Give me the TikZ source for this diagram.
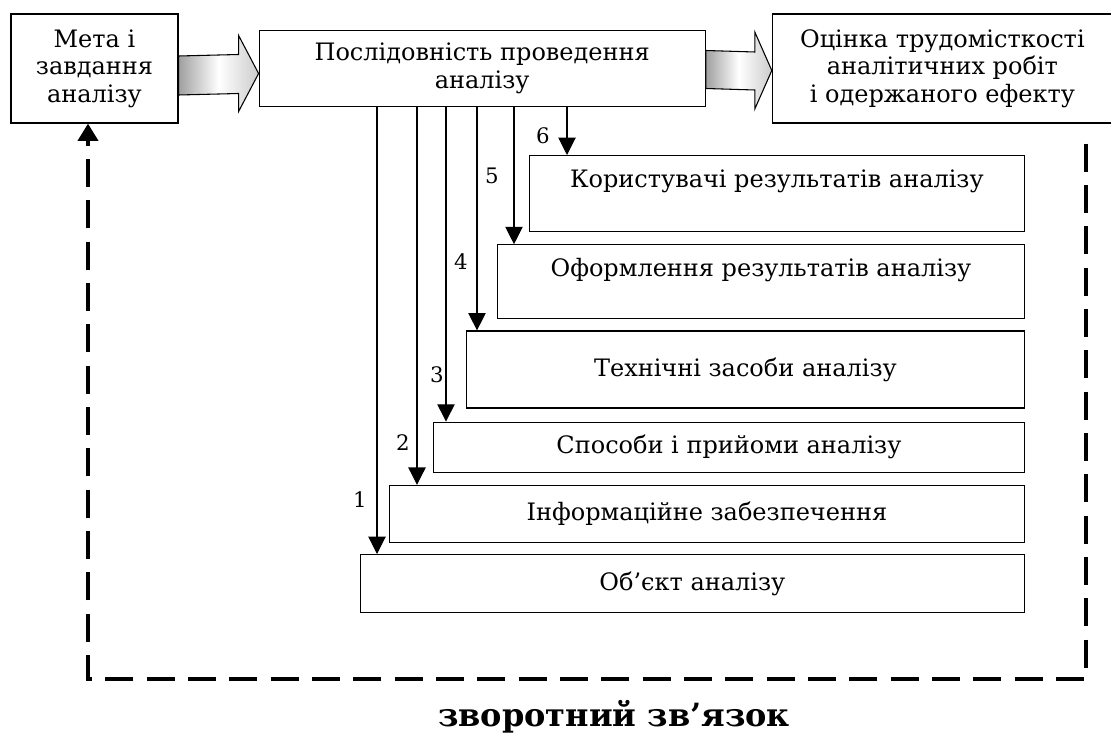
\documentclass[tikz,border=0pt]{standalone}
\usepackage{fontspec}
\setmainfont{DejaVu Serif}
\usetikzlibrary{positioning, arrows.meta, calc}

\begin{document}
\begin{tikzpicture}[
    x=0.75pt, y=-0.75pt,
    box/.style={draw, rectangle, line width=0.9pt, inner sep=2pt, align=center, font=\fontsize{18}{20.6}\selectfont},
    raised/.style={text depth=22pt},
    arrow/.style={-{Triangle[width=13pt, length=13pt]}, line width=0.8pt},
    fatarrow/.style={draw, line width=0.8pt, left color=gray!75, right color=gray!40, middle color=white},
    feedback/.style={-{Triangle[width=15pt, length=13pt]}, line width=3pt, dash pattern=on 21pt off 10pt},
    num/.style={font=\fontsize{16}{18}\selectfont}
]
\useasboundingbox (0,0) rectangle (1111,738);

% Top row
\node[box, minimum width=125.25pt, minimum height=81.75pt] (meta) at (94.5,68.5) {Мета і\\завдання\\аналізу};
\node[box, right=60pt of meta, minimum width=334.5pt, minimum height=57pt] (posl) {Послідовність проведення\\аналізу};
\node[box, right=49.5pt of posl, minimum width=255pt, minimum height=81.75pt] (ots) {Оцінка трудомісткості\\аналітичних робіт\\і одержаного ефекту};

% Stairs
\node[box, raised, anchor=north east, minimum width=371.25pt, minimum height=57pt] (kor) at (1025,155) {Користувачі результатів аналізу};
\node[box, raised, below=9pt of kor.south east, anchor=north east, minimum width=395.25pt, minimum height=55.5pt] (ofo) {Оформлення результатів аналізу};
\node[box, below=8.25pt of ofo.south east, anchor=north east, minimum width=418.5pt, minimum height=57.75pt] (tekh) {Технічні засоби аналізу};
\node[box, below=9.75pt of tekh.south east, anchor=north east, minimum width=443.25pt, minimum height=37.5pt] (spos) {Способи і прийоми аналізу};
\node[box, below=9pt of spos.south east, anchor=north east, minimum width=476.25pt, minimum height=42.75pt] (info) {Інформаційне забезпечення};
\node[box, below=8.25pt of info.south east, anchor=north east, minimum width=498pt, minimum height=43.5pt] (obj) {Об’єкт аналізу};

% Numbers
\node[num] (n1) at (360,500) {1};
\node[num] (n2) at (403,443) {2};
\node[num] (n3) at (437,375) {3};
\node[num] (n4) at (461,262) {4};
\node[num] (n5) at (492,176) {5};
\node[num] (n6) at (543,136) {6};
\node[font=\bfseries\fontsize{24}{28}\selectfont, anchor=base] (fb) at (614,726) {зворотний зв’язок};

% Block arrows
\path[fatarrow] ($(posl.west)+(0,5)$) -- ++(-20,-38) -- ++(0,19) -- ($(meta.east)+(0,-12.5)$) -- ++(0,39) -- ($(posl.west)+(-20,25)$) -- ++(0,18) -- cycle;
\path[fatarrow] ($(ots.west)+(0,2)$) -- ++(-17,-38.5) -- ++(0,20) -- ($(posl.east)+(0,-18)$) -- ++(0,38) -- ($(ots.west)+(-17,21.5)$) -- ++(0,19) -- cycle;

% Arrows
\foreach \x/\target in {377/obj, 417/info, 446/spos, 477/tekh, 514/ofo, 567/kor}
    \draw[arrow] (posl.south -| \x,0) -- (\target.north -| \x,0);
\draw[feedback] ($(ots.south -| 1086,0)+(0,20)$) -- (1086,679) -- (88,679) -- (meta.south -| 88,0);

\end{tikzpicture}
\end{document}
